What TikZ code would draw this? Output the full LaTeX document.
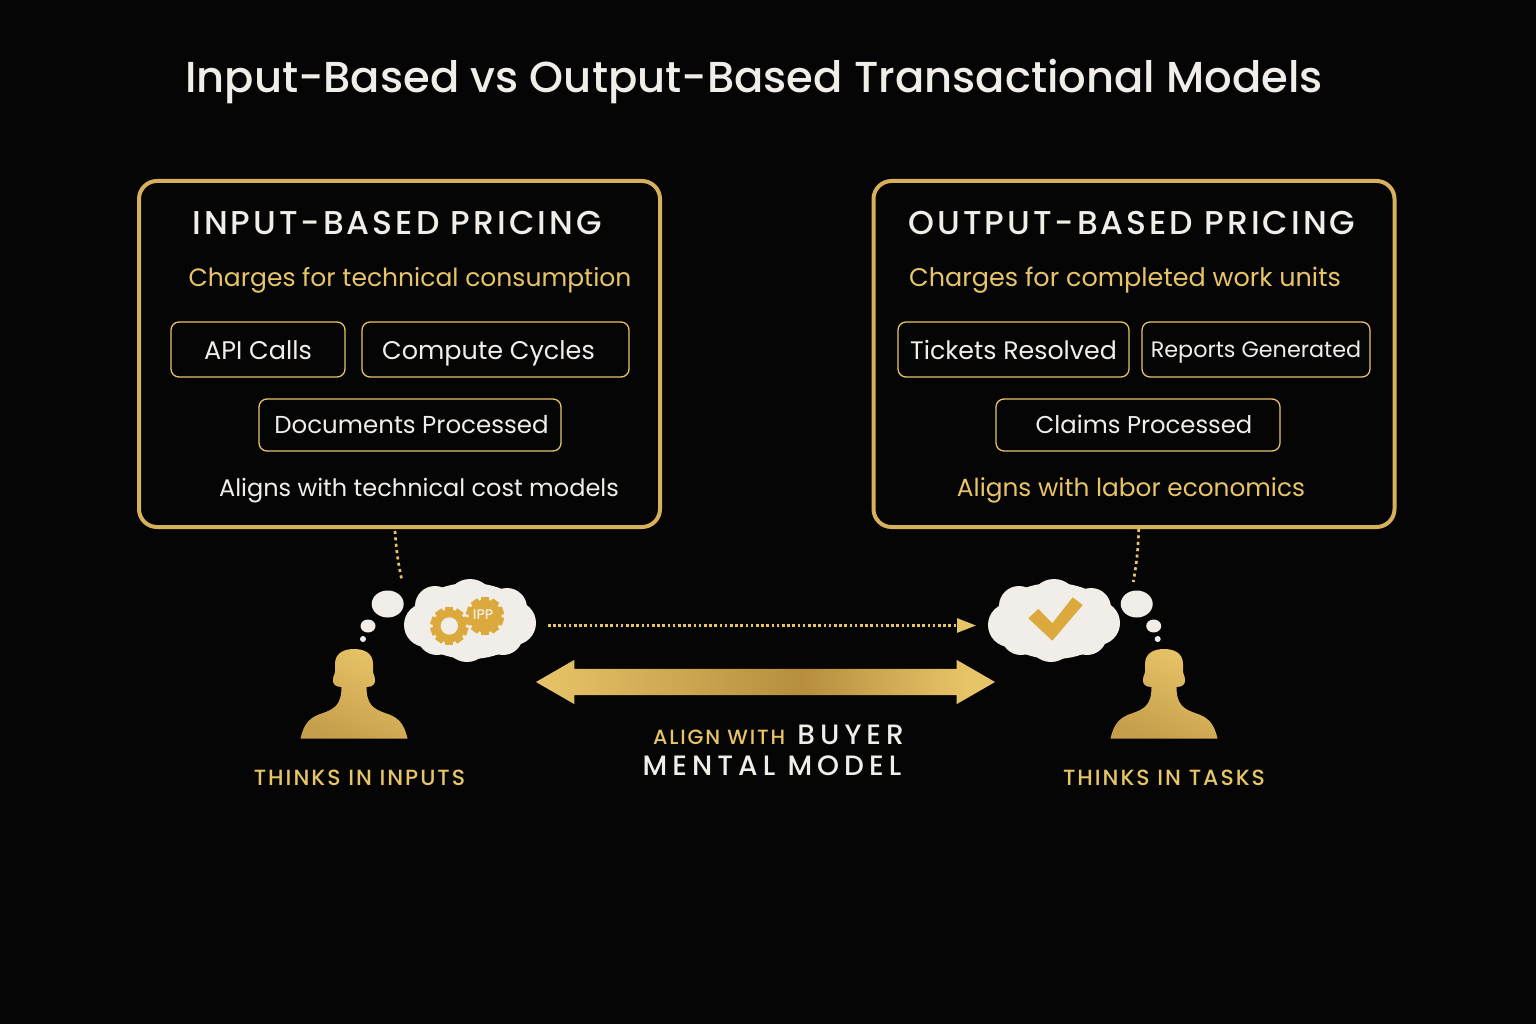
\documentclass[tikz,border=0pt]{standalone}
\usepackage{fontspec}
\setmainfont{Poppins}
\newfontfamily\midfont{Poppins Medium}
\newfontfamily\capsfont[LetterSpace=9]{Poppins Medium}
\newfontfamily\wordfont[LetterSpace=9]{Poppins Medium}
\newfontfamily\widefont[LetterSpace=18]{Poppins Medium}
\usetikzlibrary{positioning,arrows.meta,shapes.geometric,shapes.arrows}
\definecolor{bg}{HTML}{050505}
\definecolor{gold}{HTML}{E8C468}
\definecolor{golddark}{HTML}{B68E3E}
\definecolor{goldframe}{HTML}{D6B05A}
\definecolor{gearcol}{HTML}{DCA93C}
\definecolor{cream}{HTML}{F1EEEA}
\pgfdeclarehorizontalshading{barshade}{100bp}{color(0bp)=(gold); color(25bp)=(gold); color(54bp)=(golddark); color(72bp)=(gold); color(100bp)=(gold)}
\tikzstyle{panel}=[draw=goldframe,line width=4pt,fill=bg,rounded corners=18pt,
    outer sep=0pt,minimum width=521pt,minimum height=346pt]
\tikzstyle{chip}=[draw=gold,line width=1.3pt,rounded corners=8pt,text=cream,
    outer sep=0pt,inner sep=0pt,text height=22pt,text depth=2pt,minimum height=55pt]
\tikzstyle{lowchip}=[style=chip,text height=20pt,text depth=4pt,minimum height=52pt]
\tikzstyle{heading}=[text=cream,font=\capsfont\fontsize{33}{38}\selectfont]
\tikzstyle{remark}=[text=gold,text height=18pt,text depth=6pt]
\tikzstyle{persona}=[text=gold,font=\wordfont\fontsize{22}{26}\selectfont]
\tikzstyle{bubble}=[ellipse,fill=cream,inner sep=0pt,outer sep=0pt]
\tikzstyle{puff}=[style=bubble,minimum width=118pt,minimum height=76pt]
\tikzstyle{dots}=[draw=gold,line width=2.7pt,dash pattern=on 3pt off 3.4pt]
\newcommand{\sized}[1]{\fontsize{#1}{30}\selectfont}
\tikzset{
  person/.pic={
    \path[shade,top color=gold,bottom color=golddark!70!gold,shading angle=-25]
      (-53.5,89.5) .. controls (-50,74) and (-44,68) .. (-31,64)
      .. controls (-20,60) and (-12.5,56) .. (-12.5,38)
      .. controls (-19,38) and (-21.5,35) .. (-21,30)
      .. controls (-20.5,26) and (-19,25) .. (-19,23)
      -- (-19,15) .. controls (-19,4) and (-10,0) .. (0,0)
      .. controls (10,0) and (19,4) .. (19,15) -- (19,23)
      .. controls (19,25) and (20.5,26) .. (21,30)
      .. controls (21.5,35) and (19,38) .. (12.5,38)
      .. controls (12.5,56) and (20,60) .. (31,64)
      .. controls (44,68) and (50,74) .. (53.5,89.5) -- cycle;
  },
  gearwheel/.pic={
    \fill[gearcol] (0,0) circle (16.5pt);
    \foreach \a in {0,36,...,324}
      \fill[gearcol,rotate=\a] (-4,-19) rectangle (4,-12);
  }
}
\newcommand{\lobes}[1]{%
  \foreach \dx/\dy/\r in {0/-18/24,-35/-15/20,37/-13/20,-44/4/22,44/2/22,-3/18/23,-33/14/20,33/14/20}
    \fill[cream] ([shift={(\dx,\dy)}]#1.center) circle (\r pt);}

\begin{document}
\begin{tikzpicture}[x=1pt,y=-1pt]
  \fill[bg] (0,0) rectangle (1536,1024);
  \node[text=cream,font=\midfont\fontsize{43.3}{54}\selectfont] (title) at (754,82) {Input-Based vs Output-Based Transactional Models};

  % left side
  \node[panel] (panelIn) at (399.5,354) {};
  \node[heading] (headIn) at (397,223) {INPUT-BASED PRICING};
  \node[remark,font=\sized{25}] (subIn) at (410,281) {Charges for technical consumption};
  \node[chip,minimum width=174pt,font=\sized{25.5}] (chipApi) at (258,349.5) {API Calls};
  \node[chip,minimum width=267pt,font=\sized{25.5},right=17pt of chipApi] (chipCompute) {Compute Cycles\rule{14pt}{0pt}};
  \node[lowchip,minimum width=302pt,font=\sized{24.5}] (chipDocs) at (410,425) {\hspace{3pt}Documents Processed};
  \node[remark,text=cream,font=\sized{24}] (noteIn) at (419,490) {Aligns with technical cost models};

  % right side
  \node[panel] (panelOut) at (1134,354) {};
  \node[heading] (headOut) at (1132,223) {OUTPUT-BASED PRICING};
  \node[remark,font=\sized{25.5}] (subOut) at (1125,281) {Charges for completed work units};
  \node[chip,minimum width=231pt,font=\sized{25.3}] (chipTickets) at (1013.5,349.5) {Tickets Resolved};
  \node[chip,minimum width=228pt,font=\sized{22.3},text height=20pt,text depth=4pt,right=13pt of chipTickets] (chipReports) {Reports Generated};
  \node[lowchip,minimum width=284pt,font=\sized{24.3}] (chipClaims) at (1138,425) {\hspace{12pt}Claims Processed};
  \node[remark,font=\sized{24.8}] (noteOut) at (1131,490) {Aligns with labor economics};

  % thought clouds
  \node[puff] (cloudIn) at (470,621) {};
  \lobes{cloudIn}
  \node[puff] (cloudOut) at (1054,621) {};
  \lobes{cloudOut}
  \node[bubble,minimum width=32pt,minimum height=27pt] (bigIn) at (387.7,604) {};
  \node[bubble,minimum width=15pt,minimum height=13pt] (midIn) at (368,626) {};
  \node[bubble,minimum width=6pt,minimum height=6pt] (tinyIn) at (363,639) {};
  \node[bubble,minimum width=32pt,minimum height=27pt] (bigOut) at (1136.7,604) {};
  \node[bubble,minimum width=15pt,minimum height=13pt] (midOut) at (1153.7,626) {};
  \node[bubble,minimum width=6pt,minimum height=6pt] (tinyOut) at (1157.7,639) {};

  \pic at (449.3,626) {gearwheel};
  \fill[cream] (449.3,626) circle (8.7pt);
  \pic at (485,616) {gearwheel};
  \node[text=cream,inner sep=0pt,font=\midfont\fontsize{14}{16}\selectfont] (gearText) at (483,615) {IPP};
  \fill[gearcol] (1028.3,618.3) -- (1038.3,609) -- (1052.3,623.3) -- (1072.7,597.3) -- (1082.7,605) -- (1052.3,640.7) -- cycle;

  % connectors
  \coordinate (dotIn) at (402,581);
  \coordinate (dotOut) at (1133.3,582);
  \draw[dots] ([xshift=-4.5pt,yshift=-4pt]panelIn.south) to[bend right=4] (dotIn);
  \draw[dots] ([xshift=4.7pt,yshift=-2pt]panelOut.south) to[bend left=4] (dotOut);
  \coordinate (flowStart) at ([xshift=7pt,yshift=-4.5pt]cloudIn.east);
  \draw[draw=gold,line width=2.7pt,dash pattern=on 2.6pt off 2.6pt,
        -{Triangle[length=19pt,width=14pt,fill=gold,sep=0pt]},shorten <=12pt,shorten >=19pt]
    (flowStart) -- (flowStart -| cloudOut.west);

  \node[double arrow,minimum width=44pt,minimum height=459pt,inner xsep=0pt,inner ysep=13pt,outer sep=0pt,
        double arrow head extend=9pt,double arrow tip angle=60,shading=barshade] (align) at (765.5,682) {};

  % people
  \pic at (354,649) {person};
  \pic at (1164,649) {person};
  \node[persona] (labelIn) at (359.5,778) {THINKS IN INPUTS};
  \node[persona] (labelOut) at (1164,778) {THINKS IN TASKS};
  \node[text=cream,align=center,font=\widefont\fontsize{28}{31}\selectfont] (alignText) at (772,750)
    {\hspace*{13pt}{\color{gold}\wordfont\fontsize{20.6}{31}\selectfont ALIGN WITH} BUYER\\MENTAL MODEL};
\end{tikzpicture}
\end{document}
